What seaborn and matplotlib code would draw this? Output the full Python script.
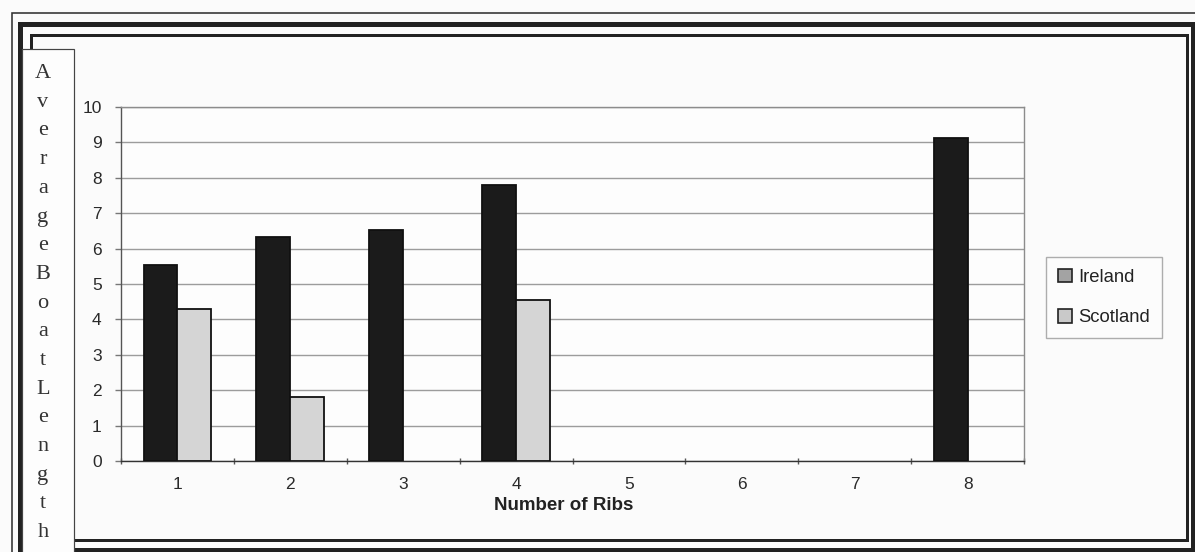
import numpy as np
import pandas as pd
import matplotlib
matplotlib.use("Agg")
import matplotlib.pyplot as plt
from matplotlib.patches import Rectangle, Patch
import seaborn as sns

# Average boat length by number of ribs
ribs = ["1", "2", "3", "4", "5", "6", "7", "8"]
ireland = [5.53, 6.33, 6.52, 7.79, np.nan, np.nan, np.nan, 9.12]
scotland = [4.30, 1.80, np.nan, 4.56, np.nan, np.nan, np.nan, np.nan]
countries = ["Ireland", "Scotland"]
y_ticks = [0, 1, 2, 3, 4, 5, 6, 7, 8, 9, 10]
y_title = "AverageBoatLength"
x_title = "Number of Ribs"

df = pd.DataFrame({
    "Ribs": ribs * 2,
    "Length": ireland + scotland,
    "Country": ["Ireland"] * len(ribs) + ["Scotland"] * len(ribs),
}).dropna()

sns.set_theme(style="white")
plt.rcParams["font.family"] = ["Liberation Sans", "DejaVu Sans"]

W, H = 1195, 552
fig = plt.figure(figsize=(W / 100, H / 100), dpi=100, facecolor="#fbfbfb")
PX = 0.72  # points per pixel at 100 dpi

left, right, top, bottom = 121, 1024, 107, 461
ax = fig.add_axes([left / W, 1 - bottom / H, (right - left) / W, (bottom - top) / H])
ax.set_facecolor("#fdfdfd")

sns.barplot(
    data=df, x="Ribs", y="Length", hue="Country",
    order=ribs, hue_order=countries,
    palette={"Ireland": "#1b1b1b", "Scotland": "#d5d5d5"},
    width=0.6, gap=0, edgecolor="#111111", linewidth=1.3,
    legend=False, ax=ax, zorder=3,
)

ax.set_ylim(0, 10)
ax.set_xlim(-0.5, len(ribs) - 0.5)
ax.set_yticks(y_ticks)
ax.set_yticklabels([str(v) for v in y_ticks])
ax.yaxis.grid(True, color="#9c9c9c", linewidth=1.0, zorder=0)
ax.xaxis.grid(False)
ax.set_axisbelow(True)

# Category labels at centres, tick marks on category boundaries
ax.set_xticks(range(len(ribs)))
ax.set_xticklabels(ribs)
ax.set_xticks(np.arange(-0.5, len(ribs), 1.0), minor=True)
ax.tick_params(axis="x", which="major", length=0, pad=11.5, labelsize=12.5, labelcolor="#2a2a2a")
ax.tick_params(axis="x", which="minor", bottom=True, length=4, width=1, color="#555555", direction="inout")
ax.tick_params(axis="y", which="major", left=True, length=4, width=1, color="#777777",
               pad=10, labelsize=12.5, labelcolor="#2a2a2a")

for side, col in (("left", "#555555"), ("bottom", "#333333"), ("top", "#8c8c8c"), ("right", "#8c8c8c")):
    ax.spines[side].set_visible(True)
    ax.spines[side].set_color(col)
    ax.spines[side].set_linewidth(1.0)

ax.set_ylabel("")
ax.set_xlabel(x_title, fontsize=13.5, fontweight="bold", color="#222222")
ax.xaxis.set_label_coords((563.5 - left) / (right - left), (bottom - 506) / (bottom - top))
ax.xaxis.label.set_va("center")

# Legend
handles = [
    Patch(facecolor="#a3a3a3", edgecolor="#222222", linewidth=1.2, label="Ireland"),
    Patch(facecolor="#c9c9c9", edgecolor="#222222", linewidth=1.2, label="Scotland"),
]
leg = ax.legend(
    handles=handles, loc="center left",
    bbox_to_anchor=(1046 / W, 1 - 297.5 / H), bbox_transform=fig.transFigure,
    borderaxespad=0, frameon=True, fancybox=False, fontsize=13.3,
    handlelength=0.78, handleheight=0.78, handletextpad=0.3,
    labelspacing=1.25, borderpad=0.65,
)
leg.get_frame().set_edgecolor("#9a9a9a")
leg.get_frame().set_linewidth(1.0)
leg.get_frame().set_facecolor("#fdfdfd")
for t in leg.get_texts():
    t.set_color("#222222")


def frame(x0, y0, x1, y1, lw_px, color, z=10):
    fig.add_artist(Rectangle(
        (x0 / W, 1 - y1 / H), (x1 - x0) / W, (y1 - y0) / H,
        transform=fig.transFigure, fill=False, edgecolor=color,
        linewidth=lw_px * PX, zorder=z,
    ))


# Chart border: thin outer, heavy middle, inner rule
frame(12, 13, 1210, 570, 1.6, "#333333")
frame(19.5, 23.5, 1193, 550, 5.0, "#222222")
frame(31, 34.5, 1186.5, 539.5, 3.0, "#222222")

# Vertical axis title box
fig.add_artist(Rectangle(
    (22 / W, -0.02), (74 - 22) / W, (1 - 49 / H) + 0.02,
    transform=fig.transFigure, facecolor="#fdfdfd", edgecolor="#444444",
    linewidth=1.2 * PX, zorder=20,
))
base0, step = 78, 28.7
for i, ch in enumerate(y_title):
    fig.text(43 / W, 1 - (base0 + i * step) / H, ch, ha="center", va="baseline",
             fontsize=16, color="#333333", family=["Liberation Serif", "DejaVu Serif"],
             zorder=21)

fig.savefig("out.png", dpi=100, facecolor=fig.get_facecolor())
